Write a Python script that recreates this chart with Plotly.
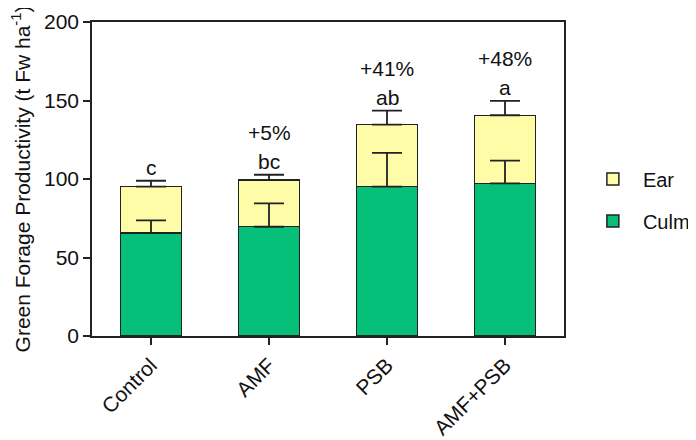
import plotly.graph_objects as go

categories = ["Control", "AMF", "PSB", "AMF+PSB"]
culm = [65.5, 69.6, 95.1, 97.2]
culm_err = [8.2, 14.9, 21.5, 14.5]
ear = [29.6, 29.8, 39.5, 43.4]
ear_err = [3.8, 3.3, 8.9, 9.1]
letters = ["c", "bc", "ab", "a"]
increase = ["", "+5%", "+41%", "+48%"]

totals = [c + e for c, e in zip(culm, ear)]

FONT = "Liberation Sans, Arial, sans-serif"
GREEN = "#06BF78"
YELLOW = "#FFFCA8"
EDGE = "#222222"

fig = go.Figure()
fig.add_trace(go.Bar(
    x=categories, y=culm, name="Culm", width=0.52,
    marker=dict(color=GREEN, line=dict(color=EDGE, width=1.5)),
    legendgroup="culm", legendrank=2,
))
fig.add_trace(go.Bar(
    x=categories, y=ear, name="Ear", width=0.52,
    marker=dict(color=YELLOW, line=dict(color=EDGE, width=1.5)),
    legendgroup="ear", legendrank=1,
))
# error bars (upward only) drawn above bars
fig.add_trace(go.Scatter(
    x=categories, y=culm, mode="markers", marker=dict(size=1, opacity=0),
    error_y=dict(type="data", symmetric=False, array=culm_err,
                 arrayminus=[0] * len(culm), color=EDGE, thickness=1.8, width=15),
    showlegend=False, hoverinfo="skip",
))
fig.add_trace(go.Scatter(
    x=categories, y=totals, mode="markers", marker=dict(size=1, opacity=0),
    error_y=dict(type="data", symmetric=False, array=ear_err,
                 arrayminus=[0] * len(ear), color=EDGE, thickness=1.8, width=15),
    showlegend=False, hoverinfo="skip",
))

tops = [t + e for t, e in zip(totals, ear_err)]
for cat, top, let, inc in zip(categories, tops, letters, increase):
    fig.add_annotation(x=cat, y=top, text=let, showarrow=False,
                       yanchor="bottom", yshift=0,
                       font=dict(family=FONT, size=21, color="#111"))
    if inc:
        fig.add_annotation(x=cat, y=top, text=inc, showarrow=False,
                           yanchor="bottom", yshift=29,
                           font=dict(family=FONT, size=21, color="#111"))

# page body has an 8px default margin, so the figure is offset by 8px
fig.update_layout(
    width=696, height=440,
    barmode="stack",
    plot_bgcolor="white", paper_bgcolor="white",
    margin=dict(l=84, r=140, t=14, b=112, autoexpand=False),
    font=dict(family=FONT, size=21, color="#111"),
    legend=dict(x=1.04, xanchor="left", y=0.562, yanchor="top",
                traceorder="grouped", tracegroupgap=13, itemwidth=50,
                font=dict(family=FONT, size=20, color="#111"),
                bgcolor="rgba(0,0,0,0)"),
    xaxis=dict(range=[-0.5, 3.5], showline=True, mirror=True, linecolor="#222",
               linewidth=1.5, ticks="outside", ticklen=7, tickwidth=1.5,
               tickcolor="#222", tickangle=-45, showgrid=False, automargin=False,
               tickfont=dict(family=FONT, size=21, color="#111")),
    yaxis=dict(range=[0, 200], dtick=50, showline=True, mirror=True, linecolor="#222",
               linewidth=1.5, ticks="outside", ticklen=7, tickwidth=1.5,
               tickcolor="#222", showgrid=False, zeroline=False, automargin=False,
               tickfont=dict(family=FONT, size=21, color="#111"),
               title=dict(text="Green Forage Productivity (t Fw ha<sup>-1</sup>)",
                          font=dict(family=FONT, size=21, color="#111"), standoff=18)),
)

fig.write_html("out.html")
